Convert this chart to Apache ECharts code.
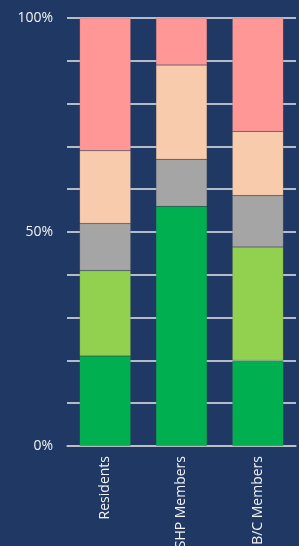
<!DOCTYPE html>
<html lang="en">
<head>
    <meta charset="UTF-8">
    <title>Stacked share</title>
    <script src="https://cdn.jsdelivr.net/npm/echarts@6/dist/echarts.min.js"></script>
    <style>
        html, body { margin: 0; padding: 0; background: #203864; }
        #main { width: 299px; height: 546px; }
    </style>
</head>
<body>
<div id="main"></div>
<script>
    // categories and stacked shares (percent)
    var categories = ['Residents', 'SHP Members', 'B/C Members'];
    var darkGreen = [21, 56, 20];
    var lightGreen = [20, 0, 26.5];
    var gray = [11, 11, 12];
    var peach = [17, 22, 15];
    var pink = [31, 11, 26.5];
    var yTickLabels = {0: '0%', 50: '50%', 100: '100%'};

    var colors = ['#00B050', '#92D050', '#A5A5A5', '#F8CBAD', '#FF9797'];
    var seriesData = [darkGreen, lightGreen, gray, peach, pink];

    var series = seriesData.map(function (d, i) {
        return {
            type: 'bar',
            stack: 'total',
            barWidth: '67%',
            data: d,
            itemStyle: {
                color: colors[i],
                borderColor: 'rgba(90,90,90,0.3)',
                borderWidth: 0.5
            },
            emphasis: { disabled: true }
        };
    });

    var myChart = echarts.init(document.getElementById('main'));
    var option = {
        backgroundColor: '#203864',
        animation: false,
        grid: {
            left: 67,
            right: 3,
            top: 18,
            bottom: 100,
            containLabel: false,
            outerBoundsMode: 'none'
        },
        xAxis: {
            type: 'category',
            data: categories,
            axisLine: { lineStyle: { color: '#BFBFBF', width: 1.5 } },
            axisTick: { show: false },
            axisLabel: {
                rotate: 90,
                interval: 0,
                color: '#F2F2F2',
                fontFamily: 'Open Sans',
                fontSize: 14,
                margin: 10
            }
        },
        yAxis: {
            type: 'value',
            min: 0,
            max: 100,
            interval: 10,
            axisLine: { show: false },
            axisTick: { show: false },
            axisLabel: {
                color: '#F2F2F2',
                fontFamily: 'Open Sans',
                fontSize: 14,
                margin: 14,
                formatter: function (v) {
                    return yTickLabels[v] || '';
                }
            },
            splitLine: { lineStyle: { color: '#E6E9EF', width: 1.5 } }
        },
        series: series
    };
    myChart.setOption(option);
</script>
</body>
</html>
